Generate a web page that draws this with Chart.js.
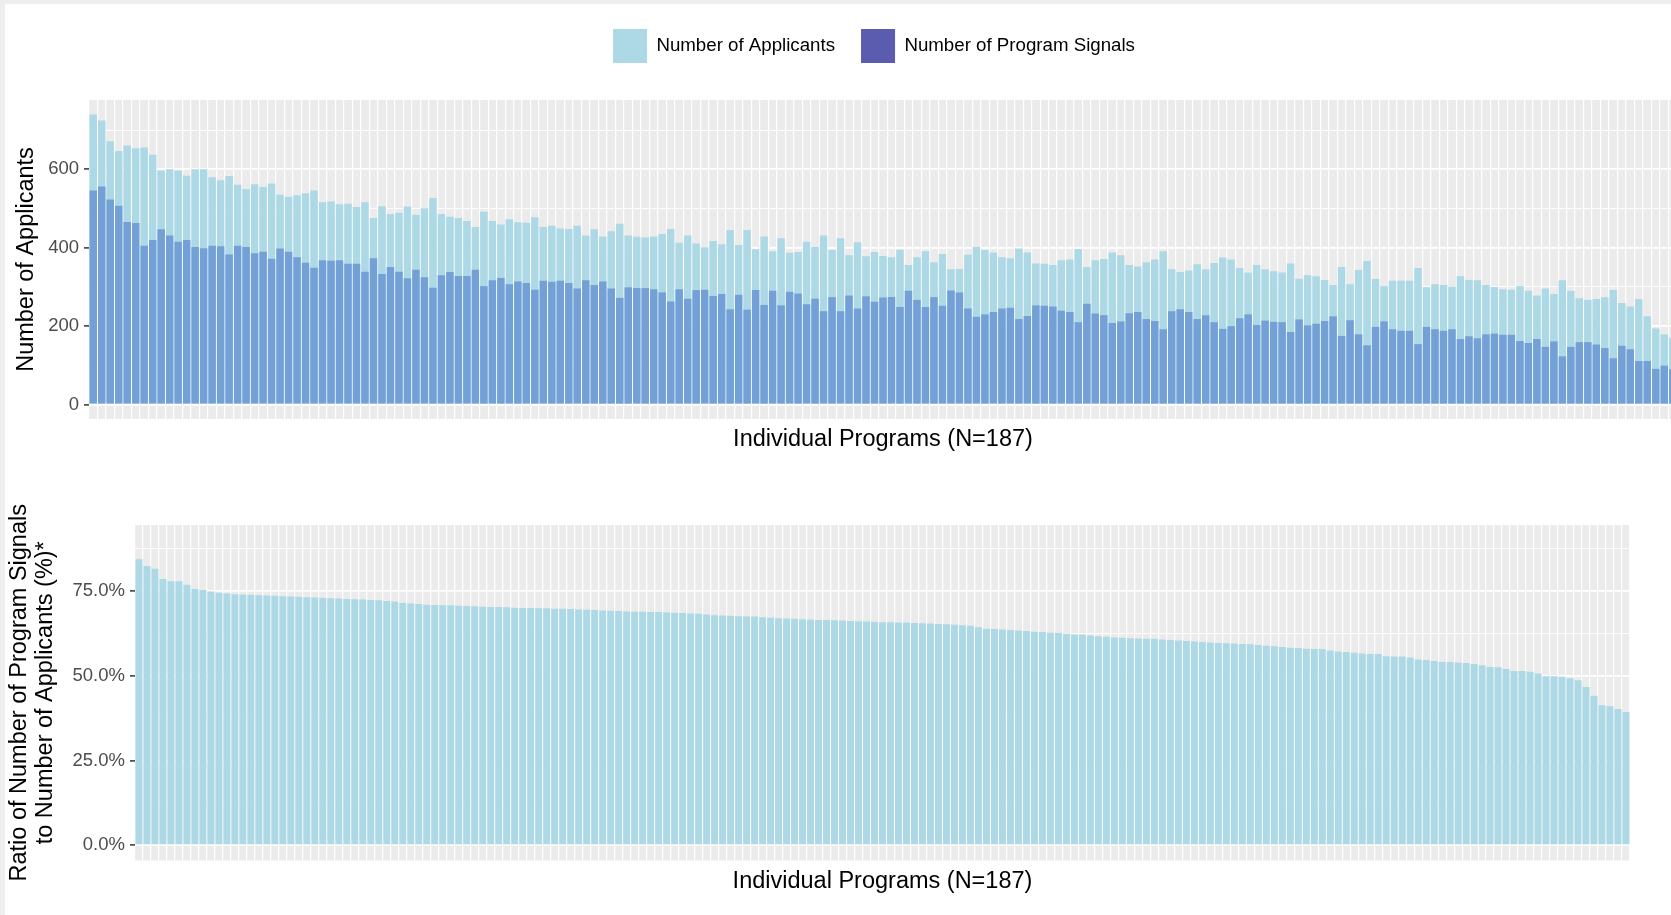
<!DOCTYPE html>
<html>
<head>
<meta charset="utf-8">
<title>Applicants and program signals</title>
<script src="https://cdn.jsdelivr.net/npm/chart.js@4.4.1/dist/chart.umd.min.js"></script>
<style>
  html, body { margin: 0; padding: 0; width: 1671px; height: 915px; overflow: hidden; background: #eeeeee; }
  #sheet { position: absolute; left: 5px; top: 4px; width: 1700px; height: 920px; background: #ffffff; }
  #topChart { position: absolute; left: 0; top: 0; }
  #ratioChart { position: absolute; left: 0; top: 482px; }
</style>
</head>
<body>
<div id="sheet"></div>
<canvas id="topChart" width="1690" height="452"></canvas>
<canvas id="ratioChart" width="1671" height="433"></canvas>
<script>
var programs = [];
for (var i = 1; i <= 187; i++) programs.push('Program ' + i);

var applicants = [
  740, 725, 672, 647, 661, 654, 656, 637, 597, 600, 597, 584, 600, 600, 580, 572, 583, 561, 550, 562, 555, 564, 535, 530, 534, 539, 546, 516, 518, 511, 512,
  504, 516, 476, 506, 486, 489, 505, 484, 501, 527, 486, 479, 476, 468, 453, 492, 468, 459, 473, 465, 464, 478, 453, 456, 449, 448, 456, 431, 447, 429, 442,
  461, 431, 428, 426, 429, 435, 448, 413, 431, 411, 401, 417, 409, 445, 407, 445, 396, 429, 391, 424, 387, 389, 415, 402, 431, 394, 424, 381, 414, 378, 389, 379,
  376, 395, 356, 376, 391, 363, 384, 345, 346, 382, 402, 394, 388, 376, 373, 398, 388, 360, 359, 356, 368, 370, 397, 351, 368, 371, 388, 381, 356, 352, 363,
  370, 391, 345, 338, 342, 358, 345, 361, 375, 370, 348, 336, 356, 345, 340, 337, 360, 321, 330, 327, 318, 305, 351, 307, 343, 366, 320, 302, 316, 316, 316,
  348, 299, 307, 305, 301, 327, 318, 317, 305, 300, 294, 293, 302, 290, 278, 296, 282, 317, 290, 271, 267, 269, 274, 292, 259, 250, 269, 225, 194, 179, 170
];

var signals = [
  546, 556, 523, 507, 466, 463, 405, 420, 447, 431, 415, 420, 402, 399, 405, 404, 383, 405, 402, 386, 390, 372, 398, 390, 376, 362, 349, 368, 367, 368, 359,
  359, 339, 373, 333, 351, 339, 322, 344, 325, 298, 330, 338, 328, 328, 344, 302, 317, 323, 307, 314, 310, 293, 316, 313, 316, 310, 296, 317, 305, 314, 296,
  272, 299, 297, 297, 294, 286, 263, 294, 270, 292, 293, 277, 282, 243, 280, 242, 292, 254, 290, 253, 288, 283, 256, 270, 238, 274, 238, 278, 245, 276, 262, 273,
  274, 249, 290, 267, 249, 274, 252, 291, 286, 245, 224, 230, 236, 245, 247, 218, 226, 253, 252, 250, 239, 236, 210, 257, 232, 228, 208, 212, 233, 236, 218,
  213, 192, 238, 243, 236, 218, 228, 210, 193, 200, 220, 230, 203, 214, 211, 210, 185, 217, 202, 206, 213, 225, 175, 215, 179, 151, 198, 212, 192, 188, 188,
  154, 198, 192, 188, 192, 167, 174, 169, 179, 181, 178, 178, 162, 157, 167, 147, 161, 123, 147, 159, 159, 153, 144, 118, 150, 141, 111, 111, 91, 99, 90
];

// ratio panel is sorted on its own, so it does not line up with the bars above
var ratio = [
  84.4, 82.4, 81.6, 78.6, 77.9, 77.9, 76.9, 75.6, 75.3, 74.9, 74.5,
  74.3, 74.1, 74.0, 73.9, 73.8, 73.7, 73.6, 73.5, 73.4, 73.3, 73.2, 73.1, 73.0, 72.9, 72.8, 72.7, 72.6, 72.5, 72.4, 72.3,
  72.1, 71.9, 71.5, 71.3, 71.2, 71.0, 70.9, 70.8, 70.8, 70.7, 70.6, 70.5, 70.4, 70.3, 70.3, 70.2, 70.1, 70.0,
  70.0, 69.9, 69.9, 69.8, 69.8, 69.7, 69.6, 69.5, 69.4, 69.3, 69.2, 69.1, 69.0, 68.9, 68.9, 68.8, 68.8, 68.7, 68.6, 68.5,
  68.4, 68.3, 68.1, 67.9, 67.8, 67.7, 67.6, 67.5, 67.5, 67.3, 67.1, 67.0, 66.9, 66.8, 66.7, 66.6, 66.5, 66.5, 66.4, 66.3,
  66.2, 66.1, 66.0, 65.9, 65.8, 65.8, 65.7, 65.7, 65.6,
  65.5, 65.4, 65.3, 65.2, 65.1, 64.9, 64.8, 64.3, 63.9, 63.8, 63.7, 63.5, 63.4, 63.2, 63.0, 62.9, 62.7, 62.6, 62.4, 62.2,
  62.1, 61.9, 61.7, 61.5, 61.3, 61.2, 61.1, 61.0, 60.9, 60.9, 60.7, 60.6, 60.4, 60.3, 60.1, 60.0, 59.8, 59.7, 59.6, 59.5,
  59.4, 59.3, 59.1, 58.9, 58.7, 58.5, 58.3, 58.2, 58.0,
  57.9, 57.9, 57.5, 57.2, 57.0, 56.8, 56.6, 56.4, 56.4, 55.8, 55.7, 55.7, 55.4, 54.8, 54.7, 54.4, 54.1, 54.1, 53.9, 53.8,
  53.5, 53.1, 52.6, 52.5, 52.0, 51.4, 51.4, 51.2, 50.7, 49.9, 49.9, 49.7, 49.3, 48.7, 46.7, 44.1, 41.3, 41.0, 40.2, 39.3
];

var countTicks = [0, 100, 200, 300, 400, 500, 600, 700];
var ratioTicks = [0, 12.5, 25, 37.5, 50, 62.5, 75, 87.5];

var lightBlue = '#ADD8E6';
var signalBar = '#73A0D6';
var signalKey = '#5B5BB0';
var panelGrey = '#EBEBEB';
var family = '"Liberation Sans", Arial, sans-serif';
var tickFont = { family: family, size: 18.5 };
var titleFont = { family: family, size: 23.5, lineHeight: 1.1 };

// grey ggplot panel behind the grid
var panelBackground = {
  id: 'panelBackground',
  beforeDraw: function (chart) {
    var a = chart.chartArea, c = chart.ctx;
    c.save();
    c.fillStyle = panelGrey;
    c.fillRect(a.left, a.top, a.right - a.left, a.bottom - a.top);
    c.restore();
  }
};

// leave room between legend and panel (no option for this in Chart.js)
var legendGap = {
  id: 'legendGap',
  beforeLayout: function (chart) {
    var lg = chart.legend;
    if (!lg || lg._gapAdded) return;
    var fit = lg.fit;
    lg.fit = function () { fit.call(this); this.height += 27; };
    lg._gapAdded = true;
  },
  afterLayout: function (chart) {
    chart.legend.left -= 9;
    chart.legend.right -= 9;
  }
};

function majorTick(step) {
  return function (c) { return c.tick && c.tick.value % step === 0; };
}

var isMajorCount = majorTick(200);
var isMajorRatio = majorTick(25);

new Chart(document.getElementById('topChart'), {
  type: 'bar',
  data: {
    labels: programs,
    datasets: [
      { label: 'Number of Applicants', data: applicants, backgroundColor: lightBlue, order: 2,
        grouped: false, barPercentage: 0.88, categoryPercentage: 1 },
      { label: 'Number of Program Signals', data: signals, backgroundColor: signalBar, order: 1,
        grouped: false, barPercentage: 0.88, categoryPercentage: 1 }
    ]
  },
  options: {
    responsive: false,
    animation: false,
    events: [],
    layout: { padding: { top: 3, left: 0, right: 13, bottom: 0 } },
    plugins: {
      legend: {
        position: 'top',
        fullSize: false,
        labels: {
          boxWidth: 34,
          boxHeight: 34,
          padding: 26,
          color: '#1a1a1a',
          font: { family: family, size: 18.7 },
          generateLabels: function () {
            return [
              { text: 'Number of Applicants', fillStyle: lightBlue, strokeStyle: lightBlue, lineWidth: 0, hidden: false, datasetIndex: 0 },
              { text: 'Number of Program Signals', fillStyle: signalKey, strokeStyle: signalKey, lineWidth: 0, hidden: false, datasetIndex: 1 }
            ];
          }
        }
      },
      tooltip: { enabled: false }
    },
    scales: {
      x: {
        offset: true,
        grid: { offset: true, color: '#ffffff', lineWidth: 1.2, drawTicks: false },
        border: { display: false },
        ticks: { display: false, autoSkip: false },
        title: { display: true, text: 'Individual Programs (N=187)', color: '#000000', font: titleFont, padding: 0 },
        afterFit: function (s) { s.height = 33; }
      },
      y: {
        min: -37,
        max: 777,
        afterBuildTicks: function (s) { s.ticks = countTicks.map(function (v) { return { value: v }; }); },
        ticks: {
          color: '#4d4d4d',
          font: tickFont,
          padding: 5,
          callback: function (v) { return v % 200 === 0 ? String(v) : ''; }
        },
        grid: {
          color: '#ffffff',
          lineWidth: function (c) { return isMajorCount(c) ? 1.8 : 0.9; },
          tickLength: 5,
          tickWidth: 1.5,
          tickColor: function (c) { return isMajorCount(c) ? '#333333' : 'rgba(0,0,0,0)'; }
        },
        border: { display: false },
        title: { display: true, text: 'Number of Applicants', color: '#000000', font: titleFont, padding: { top: 14, bottom: 0 } },
        afterFit: function (s) { s.width = 89; }
      }
    }
  },
  plugins: [panelBackground, legendGap]
});

new Chart(document.getElementById('ratioChart'), {
  type: 'bar',
  data: {
    labels: programs,
    datasets: [
      { label: 'Ratio', data: ratio, backgroundColor: lightBlue, barPercentage: 0.87, categoryPercentage: 1 }
    ]
  },
  options: {
    responsive: false,
    animation: false,
    events: [],
    layout: { padding: { top: 43, left: 0, right: 41, bottom: 20.5 } },
    plugins: { legend: { display: false }, tooltip: { enabled: false } },
    scales: {
      x: {
        offset: true,
        grid: { offset: true, color: '#ffffff', lineWidth: 1.2, drawTicks: false },
        border: { display: false },
        ticks: { display: false, autoSkip: false },
        title: { display: true, text: 'Individual Programs (N=187)', color: '#000000', font: titleFont, padding: 0 },
        afterFit: function (s) { s.height = 34; }
      },
      y: {
        min: -4.5,
        max: 94.5,
        afterBuildTicks: function (s) { s.ticks = ratioTicks.map(function (v) { return { value: v }; }); },
        ticks: {
          color: '#4d4d4d',
          font: tickFont,
          padding: 5,
          callback: function (v) { return v % 25 === 0 ? v.toFixed(1) + '%' : ''; }
        },
        grid: {
          color: '#ffffff',
          lineWidth: function (c) { return isMajorRatio(c) ? 1.8 : 0.9; },
          tickLength: 5,
          tickWidth: 1.5,
          tickColor: function (c) { return isMajorRatio(c) ? '#333333' : 'rgba(0,0,0,0)'; }
        },
        border: { display: false },
        title: {
          display: true,
          text: ['Ratio of Number of Program Signals', 'to Number of Applicants (%)*'],
          color: '#000000',
          font: titleFont,
          padding: { top: 6.3, bottom: 0 }
        },
        afterFit: function (s) { s.width = 135; }
      }
    }
  },
  plugins: [panelBackground]
});
</script>
</body>
</html>
